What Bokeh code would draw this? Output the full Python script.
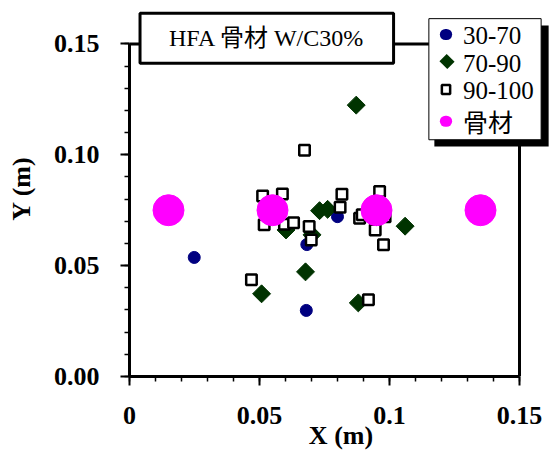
from bokeh.plotting import figure
from bokeh.models import FixedTicker, Label
from bokeh.embed import file_html
from bokeh.resources import INLINE
import math

# ---- data (metres) ----
x_3070 = [0.0249, 0.0682, 0.0680, 0.0800]
y_3070 = [0.0537, 0.0595, 0.0298, 0.0721]

x_7090 = [0.0872, 0.1060, 0.0677, 0.0508, 0.0880, 0.0602, 0.0702, 0.0731, 0.0762]
y_7090 = [0.1224, 0.0678, 0.0472, 0.0373, 0.0332, 0.0661, 0.0639, 0.0748, 0.0754]

x_90100 = [0.0673, 0.0512, 0.0588, 0.0518, 0.0596, 0.0631, 0.0691, 0.0699, 0.0817,
           0.0810, 0.0962, 0.0885, 0.0895, 0.0983, 0.0945, 0.0977, 0.0469, 0.0919]
y_90100 = [0.1021, 0.0814, 0.0823, 0.0684, 0.0687, 0.0694, 0.0676, 0.0616, 0.0822,
           0.0763, 0.0834, 0.0714, 0.0729, 0.0721, 0.0661, 0.0594, 0.0436, 0.0346]

x_agg = [0.015, 0.055, 0.095, 0.135]
y_agg = [0.075, 0.075, 0.075, 0.075]

series_names = ["30-70", "70-90", "90-100", "骨材"]
series_colors = ["#000080", "#003300", "white", "#FF00FF"]
title_text = "HFA 骨材 W/C30%"

x_ticks = [0, 0.05, 0.1, 0.15]
x_tick_labels = ["0", "0.05", "0.1", "0.15"]
y_ticks = [0, 0.05, 0.1, 0.15]
y_tick_labels = ["0.00", "0.05", "0.10", "0.15"]
minor_ticks = [i / 100 for i in range(16)]

# ---- layout (pixels) ----
W, H = 552, 452
FL, FB = 129, 377          # frame left / bottom in the page
XPX, YPX = 2600.0, 2223.0  # pixels per metre
SERIF = "'Liberation Serif', 'Noto Sans CJK JP'"

p = figure(width=W, height=H,
           x_range=(0, (W - FL) / XPX), y_range=(0, FB / YPX),
           output_backend="svg", toolbar_location=None,
           min_border_left=FL, min_border_right=0, min_border_top=0,
           min_border_bottom=H - FB)
p.background_fill_color = "white"
p.border_fill_color = "white"
p.grid.visible = False
p.outline_line_color = None

for ax, ticks, labels in ((p.xaxis[0], x_ticks, x_tick_labels), (p.yaxis[0], y_ticks, y_tick_labels)):
    ax.ticker = FixedTicker(ticks=ticks, minor_ticks=minor_ticks)
    ax.bounds = (ticks[0], ticks[-1])
    ax.major_label_overrides = dict(zip(ticks, labels))
    ax.axis_line_width = 3
    ax.axis_line_color = "black"
    ax.major_tick_in = 0
    ax.major_tick_out = 9
    ax.minor_tick_in = 0
    ax.minor_tick_out = 5
    ax.major_tick_line_width = 2
    ax.minor_tick_line_width = 1.5
    ax.major_label_text_font = SERIF
    ax.major_label_text_font_style = "bold"
    ax.major_label_text_font_size = "26px"
    ax.major_label_text_color = "black"
    ax.axis_label_text_font = SERIF
    ax.axis_label_text_font_style = "bold"
    ax.axis_label_text_font_size = "26px"
    ax.axis_label_text_color = "black"

p.xaxis.axis_label = "X (m)"
p.yaxis.axis_label = "Y (m)"
p.xaxis.major_label_standoff = 21
p.xaxis.axis_label_standoff = -6
p.yaxis.major_label_standoff = 21
p.yaxis.axis_label_standoff = 15

# top and right edges of the plot box
p.line(x=[x_ticks[0], x_ticks[-1], x_ticks[-1]], y=[y_ticks[-1], y_ticks[-1], y_ticks[0]],
       line_color="black", line_width=3, line_join="miter")

p.scatter(x_3070, y_3070, marker="circle", size=12, fill_color=series_colors[0], line_color=series_colors[0])
p.scatter(x_7090, y_7090, marker="square", size=12.7, angle=math.pi / 4,
          fill_color=series_colors[1], line_color=series_colors[1])
p.scatter(x_90100, y_90100, marker="square", size=10.5, fill_color=series_colors[2],
          line_color="black", line_width=2.5)
p.scatter(x_agg, y_agg, marker="circle", size=31, fill_color=series_colors[3], line_color=series_colors[3])


def box(cx, cy, pad, **kw):
    """a plain box (Label with a blank text) centred on page pixel (cx, cy)"""
    p.add_layout(Label(x=cx - FL, y=FB - cy, x_units="screen", y_units="screen", text=" ",
                       text_align="center", text_baseline="middle", text_font_size="1px",
                       padding=pad, **kw))


# title box (shadow + box)
tx, ty = 266.3 - FL, FB - 38.7
p.add_layout(Label(x=tx + 6, y=ty - 5, x_units="screen", y_units="screen", text=title_text,
                   text_align="center", text_baseline="middle", text_font=SERIF,
                   text_font_size="24px", text_alpha=0, padding=(30, 13),
                   background_fill_color="#808080"))
p.add_layout(Label(x=tx, y=ty, x_units="screen", y_units="screen", text=title_text,
                   text_align="center", text_baseline="middle", text_font=SERIF,
                   text_font_size="24px", text_color="black", padding=(29, 12),
                   background_fill_color="white", border_line_color="black",
                   border_line_width=3))

# legend: shadow, box, symbols, texts
box(491, 86.5, (57, 60), background_fill_color="black")
box(484.5, 79.7, (56, 60), background_fill_color="white", border_line_color="black",
    border_line_width=1)
sym_x = 445.5
rows_y = [35, 62, 90, 121.7]
text_y = [35.8, 64, 90.8, 123.5]
box(sym_x, rows_y[0], (6, 5), background_fill_color=series_colors[0], border_radius=6)
box(sym_x + 1, rows_y[1], (5, 5), background_fill_color=series_colors[1], angle=math.pi / 4)
box(sym_x, rows_y[2], (4, 4), background_fill_color=series_colors[2], border_line_color="black",
    border_line_width=2.5)
box(sym_x, rows_y[3], (6, 5), background_fill_color=series_colors[3], border_radius=6)
for name, yy in zip(series_names, text_y):
    p.add_layout(Label(x=462.5 - FL, y=FB - yy, x_units="screen", y_units="screen", text=name,
                       text_align="left", text_baseline="middle", text_font=SERIF,
                       text_font_size="25px", text_color="black"))

open("out.html", "w").write(file_html(p, INLINE))
